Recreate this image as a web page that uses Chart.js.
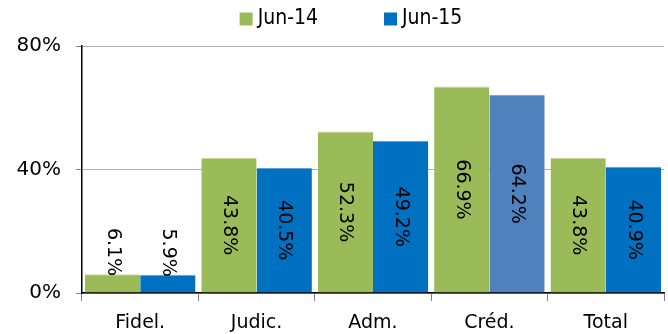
<!DOCTYPE html>
<html>
<head>
<meta charset="utf-8">
<script src="https://cdn.jsdelivr.net/npm/chart.js@4"></script>
<style>
  body { margin: 0; background: #ffffff; }
</style>
</head>
<body>
<canvas id="ratioChart" width="668" height="334"></canvas>
<script>
const categories = ['Fidel.', 'Judic.', 'Adm.', 'Créd.', 'Total'];
const jun14 = [6.1, 43.8, 52.3, 66.9, 43.8];
const jun15 = [5.9, 40.5, 49.2, 64.2, 40.9];
const yTicks = [0, 40, 80];

const GREEN = '#9BBB59';
const BLUE = '#0070C0';
const STEEL = '#4F81BD';

// vertical % labels inside the bars
const barLabelPlugin = {
  id: 'bar_labels',
  afterDatasetsDraw: function(chart) {
    const ctx = chart.ctx;
    ctx.save();
    ctx.font = '19px "DejaVu Sans"';
    ctx.fillStyle = '#000000';
    ctx.textAlign = 'center';
    ctx.textBaseline = 'middle';
    chart.data.datasets.forEach(function(ds, i) {
      const meta = chart.getDatasetMeta(i);
      meta.data.forEach(function(bar, j) {
        const text = ds.data[j].toFixed(1) + '%';
        const w = ctx.measureText(text).width;
        let cy = (bar.y + bar.base) / 2;
        if (w + 6 > bar.base - bar.y) {
          // too short: let the text stick out above the bar
          cy = bar.y + 2 - w / 2;
        }
        ctx.save();
        ctx.translate(bar.x, cy);
        ctx.rotate(Math.PI / 2);
        ctx.fillText(text, 0, 0);
        ctx.restore();
      });
    });
    ctx.restore();
  }
};

// legend row above the plot, wider item spacing than the built-in one allows
const topLegendPlugin = {
  id: 'top_legend',
  afterDraw: function(chart, args, options) {
    const ctx = chart.ctx;
    const box = 13, gap = 5, spacing = 66;
    ctx.save();
    ctx.font = '21px "DejaVu Sans Condensed", "DejaVu Sans"';
    ctx.textBaseline = 'middle';
    ctx.textAlign = 'left';
    const items = chart.data.datasets.map(function(ds) {
      return { text: ds.label, color: ds.legendColor, w: ctx.measureText(ds.label).width };
    });
    let total = 0;
    items.forEach(function(it, i) { total += box + gap + it.w + (i ? spacing : 0); });
    let x = options.centerX - total / 2;
    items.forEach(function(it) {
      ctx.fillStyle = it.color;
      ctx.fillRect(x, options.y - box / 2, box, box);
      ctx.fillStyle = '#000000';
      ctx.fillText(it.text, x + box + gap, options.y);
      x += box + gap + it.w + spacing;
    });
    ctx.restore();
  }
};

new Chart(document.getElementById('ratioChart'), {
  type: 'bar',
  data: {
    labels: categories,
    datasets: [
      {
        label: 'Jun-14',
        data: jun14,
        legendColor: GREEN,
        backgroundColor: GREEN,
        borderColor: '#C4D79E',
        borderWidth: { top: 1, left: 0, right: 0, bottom: 0 }
      },
      {
        label: 'Jun-15',
        data: jun15,
        legendColor: BLUE,
        backgroundColor: jun15.map(function(v, i) { return categories[i] === 'Créd.' ? STEEL : BLUE; }),
        borderColor: '#5FA2D8',
        borderWidth: { top: 1, left: 0, right: 0, bottom: 0 }
      }
    ]
  },
  plugins: [barLabelPlugin, topLegendPlugin],
  options: {
    responsive: false,
    animation: false,
    layout: { padding: { left: 0, right: 4, top: 46, bottom: 0 } },
    datasets: {
      bar: { categoryPercentage: 0.95, barPercentage: 1.0 }
    },
    scales: {
      x: {
        grid: {
          offset: true,
          drawOnChartArea: false,
          tickLength: 8,
          tickColor: '#808080'
        },
        border: { color: '#000000', width: 1.5 },
        ticks: {
          color: '#000000',
          padding: 11,
          font: { family: '"DejaVu Sans"', size: 19 }
        },
        afterFit: function(scale) { scale.height = 41; }
      },
      y: {
        min: 0,
        max: 80,
        afterBuildTicks: function(scale) {
          scale.ticks = yTicks.map(function(v) { return { value: v }; });
        },
        grid: {
          color: '#b0b0b0',
          borderDash: [2, 2],
          tickLength: 6,
          tickColor: '#808080',
          tickBorderDash: []
        },
        border: { color: '#000000', width: 1.5 },
        ticks: {
          color: '#000000',
          padding: 15,
          font: { family: '"DejaVu Sans"', size: 20 },
          callback: function(v) { return v + '%'; }
        },
        afterFit: function(scale) { scale.width = 82; }
      }
    },
    plugins: {
      legend: { display: false },
      top_legend: { centerX: 351, y: 19 },
      tooltip: { enabled: false }
    }
  }
});
</script>
</body>
</html>
